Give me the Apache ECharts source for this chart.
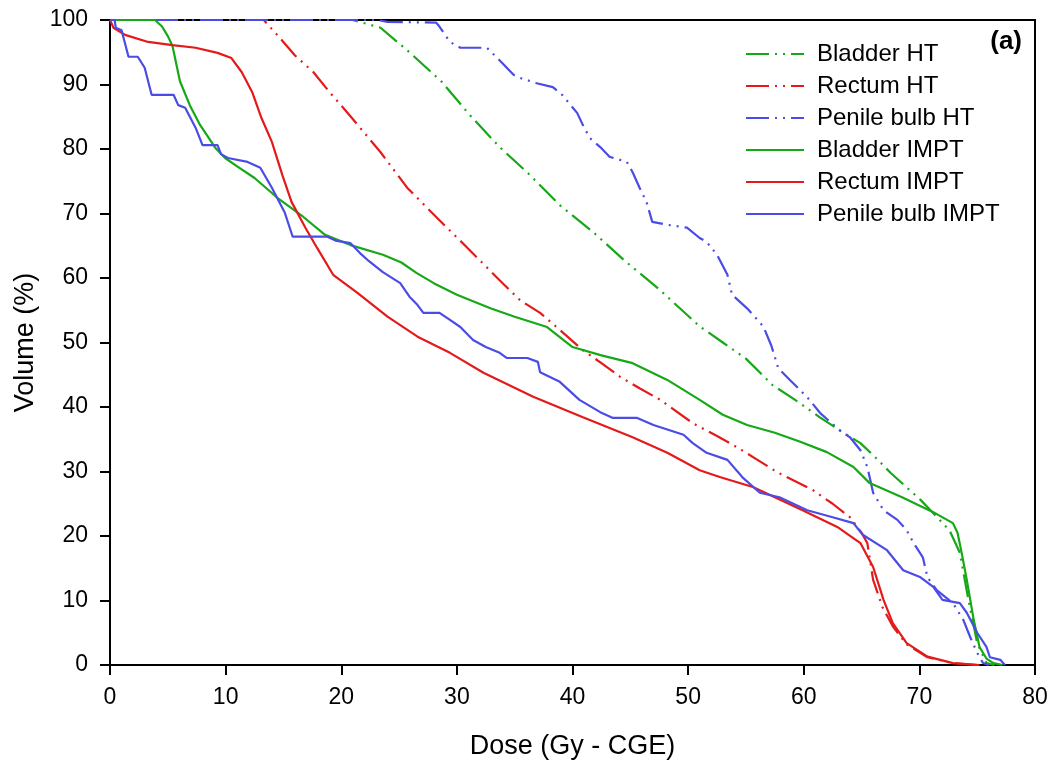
<!DOCTYPE html>
<html>
<head>
<meta charset="utf-8">
<script src="https://cdn.jsdelivr.net/npm/echarts@6/dist/echarts.min.js"></script>
<style>
html,body{margin:0;padding:0;background:#fff;}
#chart{width:1052px;height:769px;}
</style>
</head>
<body>
<div id="chart"></div>
<script>
// ---- Data (dose Gy-CGE, volume %) ----
var seriesNames = ['Bladder HT', 'Rectum HT', 'Penile bulb HT', 'Bladder IMPT', 'Rectum IMPT', 'Penile bulb IMPT'];
var xTicks = [0, 10, 20, 30, 40, 50, 60, 70, 80];
var yTicks = [0, 10, 20, 30, 40, 50, 60, 70, 80, 90, 100];

var bladderHT = [[0,100],[21,100],[23.4,98.8],[25.9,95],[28.7,90.4],[31.1,85.3],[33.7,80.3],[36.3,76],[38.9,71.3],[41.8,67.1],[44.5,62.7],[47.4,58.4],[49.9,54.3],[51,52.5],[53,50],[55,47.5],[57.3,43.4],[59.5,40.8],[61.4,38.4],[63,36.5],[64.9,34.4],[66.3,32],[67.5,29.8],[70.1,25.6],[72.6,20.9],[73.5,17.4],[74.2,10.5],[75,3.4],[75.8,0.3],[76.5,0]];

var rectumHT = [[0,100],[13.3,100],[14.7,97.2],[16,94.5],[17.6,91.9],[19,88.8],[20.5,85.7],[22,82.5],[23.4,79.5],[25.7,74],[28.3,69.3],[30.9,64.7],[33.5,60],[35.5,56.5],[37.2,54.6],[39,51.8],[40.9,48.8],[42.5,46.8],[44.1,44.7],[45.8,42.9],[47.6,41.1],[50.4,37.5],[52.5,35.5],[54.2,33.8],[56,31.8],[57.7,29.9],[60.8,27.1],[62.5,25],[64,22.9],[65,20.5],[65.5,18.9],[66,13.2],[66.8,9],[67.7,6],[68.9,3.2],[70.7,1.2],[72.9,0.3],[75,0]];

var penileHT = [[0,100],[23.1,100],[24,99.7],[28.2,99.6],[28.4,99.2],[29.4,96.6],[30.3,95.7],[32.6,95.7],[33.5,94.1],[34.9,91.5],[35.5,91.0],[36.9,90.2],[38.3,89.6],[39.1,88.4],[40.4,85.6],[40.9,83.7],[41.5,81.7],[42.4,80.3],[43.2,78.8],[44.7,78.0],[45.2,76.4],[45.8,74.0],[46.4,71.8],[46.9,68.7],[48.4,68.2],[49.9,67.8],[51.0,66.2],[51.6,65.6],[52.5,63.6],[53.4,60.5],[53.8,57.4],[55.1,55.3],[55.6,54.3],[56.5,52.5],[57.2,49.5],[57.8,46],[58.8,44.2],[59.7,42.6],[60.5,41.1],[61.4,39.1],[63.1,36.4],[64.0,35.3],[64.9,33.3],[65.5,30.7],[66.0,26.7],[66.9,24.0],[68.1,22.5],[68.9,20.9],[69.5,18.9],[70.3,16.7],[70.7,13.6],[71.5,11.6],[72.9,9.6],[73.8,7.0],[74.4,4.3],[75.0,1.9],[75.5,0.3],[76,0]];

var bladderIMPT = [[0,100],[3.9,100],[4.5,99],[5.0,97.5],[5.4,96],[6.05,90.5],[6.9,86.8],[7.8,83.7],[9.1,80.2],[9.95,78.6],[11,77.3],[12.5,75.5],[14.5,72.4],[16.7,69.5],[18.6,66.7],[20.8,65.1],[23.6,63.6],[25.2,62.4],[26.5,60.8],[28,59.2],[30,57.4],[32.9,55.3],[35,54],[37.8,52.4],[40,49.3],[42.5,48],[45.2,46.8],[48.2,44.2],[51,41.1],[53,38.8],[55.1,37.2],[57.5,36],[59.7,34.6],[62,33],[64.3,30.7],[65.7,28.2],[68.5,26],[71.2,23.7],[72.9,22],[73.3,20.5],[73.7,17],[74.1,13.2],[74.7,7],[75.2,2.8],[75.8,1],[76.4,0.3],[77.2,0]];

var rectumIMPT = [[0,100],[0.3,98.8],[1.3,97.7],[3.3,96.6],[5.4,96.1],[7.4,95.7],[9.3,94.9],[10.5,94.1],[11.4,91.9],[12.3,88.8],[13.1,84.8],[14,81.1],[14.9,76],[15.7,71.8],[16.9,67.8],[17.9,64.7],[19.3,60.5],[21.4,57.7],[24,54],[26.6,50.9],[29.4,48.4],[32.3,45.3],[36.6,41.6],[40.9,38.4],[45.2,35.3],[48.2,32.9],[51,30.2],[52.8,29.1],[55.6,27.6],[57.5,26],[59.9,24],[62.9,21.4],[64.9,18.9],[66,15.2],[66.9,10.1],[67.7,6.5],[68.9,3.4],[70.7,1.3],[72.9,0.3],[75.2,0]];

var penileIMPT = [[0,100],[0.4,100],[0.5,98.8],[1.0,98.4],[1.6,94.3],[2.4,94.3],[3.0,92.6],[3.6,88.4],[5.5,88.4],[5.9,86.8],[6.5,86.4],[7.4,83.3],[8.0,80.6],[9.3,80.6],[9.6,79.2],[10.2,78.6],[11.9,78.0],[13.0,77.1],[14.0,74.0],[15.1,70.2],[15.8,66.4],[18.8,66.4],[19.5,65.8],[20.8,65.4],[21.6,63.9],[22.4,62.6],[23.6,60.9],[25.1,59.2],[25.9,57.1],[26.6,55.8],[27.1,54.6],[28.5,54.6],[29.4,53.5],[30.3,52.4],[31.4,50.4],[32.5,49.3],[33.7,48.4],[34.3,47.6],[36.1,47.6],[37.0,47.0],[37.2,45.4],[38.9,43.9],[40.6,41.1],[42.4,39.2],[43.5,38.3],[45.6,38.3],[47.0,37.2],[49.6,35.7],[50.4,34.4],[51.6,32.9],[53.4,31.8],[54.7,29.1],[56.2,26.7],[57.9,26.0],[60.3,24.0],[62.5,22.9],[64.3,22.0],[65.1,20.2],[67.2,17.8],[68.6,14.7],[70.1,13.6],[71.2,12.1],[72.0,10.1],[73.5,9.6],[74.1,8.1],[75.0,5.0],[75.8,2.8],[76.1,1.2],[77.0,0.8],[77.4,0]];

var seriesData = [bladderHT, rectumHT, penileHT, bladderIMPT, rectumIMPT, penileIMPT];

// ---- Styles ----
var GREEN = '#16a816', RED = '#e41a1a', BLUE = '#4b4be6';
var colors = [GREEN, RED, BLUE, GREEN, RED, BLUE];
var dashDotDot = [23, 6, 2, 6, 2, 6];
var lineTypes = [dashDotDot, dashDotDot, dashDotDot, 'solid', 'solid', 'solid'];
var FONT = '"Liberation Sans", Arial, Helvetica, sans-serif';

var chart = echarts.init(document.getElementById('chart'), null, {renderer: 'canvas'});

var series = seriesNames.map(function (name, i) {
  return {
    name: name,
    type: 'line',
    data: seriesData[i],
    symbol: 'none',
    smooth: false,
    animation: false,
    color: colors[i],
    lineStyle: {color: colors[i], width: 2.2, type: lineTypes[i]},
    z: 2
  };
});

chart.setOption({
  animation: false,
  backgroundColor: '#fff',
  grid: {left: 110, right: 17, top: 20, bottom: 104, containLabel: false, outerBoundsMode: 'none',
    show: true, borderColor: '#000', borderWidth: 2, backgroundColor: 'transparent'},
  xAxis: {
    type: 'value', min: 0, max: 80, interval: 10,
    name: 'Dose (Gy - CGE)', nameLocation: 'middle', nameGap: 68,
    nameTextStyle: {fontFamily: FONT, fontSize: 27, color: '#000'},
    axisLine: {show: true, onZero: false, lineStyle: {color: '#000', width: 2}},
    axisTick: {show: true, inside: false, length: 10, lineStyle: {color: '#000', width: 2}},
    axisLabel: {fontFamily: FONT, fontSize: 23, color: '#000', margin: 21,
      formatter: function (v) { return xTicks.indexOf(v) >= 0 ? String(v) : ''; }},
    splitLine: {show: false}
  },
  yAxis: {
    type: 'value', min: 0, max: 100, interval: 10,
    name: 'Volume (%)', nameLocation: 'middle', nameGap: 65, nameRotate: 90,
    nameTextStyle: {fontFamily: FONT, fontSize: 27, color: '#000'},
    axisLine: {show: true, onZero: false, lineStyle: {color: '#000', width: 2}},
    axisTick: {show: true, inside: false, length: 10, lineStyle: {color: '#000', width: 2}},
    axisLabel: {fontFamily: FONT, fontSize: 23, color: '#000', margin: 22,
      formatter: function (v) { return yTicks.indexOf(v) >= 0 ? String(v) : ''; }},
    splitLine: {show: false}
  },
  legend: {
    show: true,
    left: 745, top: 41, orient: 'vertical', padding: 0,
    itemWidth: 58, itemHeight: 14, itemGap: 6,
    data: seriesNames,
    itemStyle: {color: 'transparent', borderColor: 'transparent', borderWidth: 0, opacity: 0},
    textStyle: {fontFamily: FONT, fontSize: 24, color: '#000', lineHeight: 26, padding: [0, 0, 0, 8]}
  },
  graphic: [{
    type: 'text', right: 30, top: 29,
    style: {text: '(a)', font: 'bold 26px ' + FONT, fill: '#000'}
  }],
  series: series
});
</script>
</body>
</html>
